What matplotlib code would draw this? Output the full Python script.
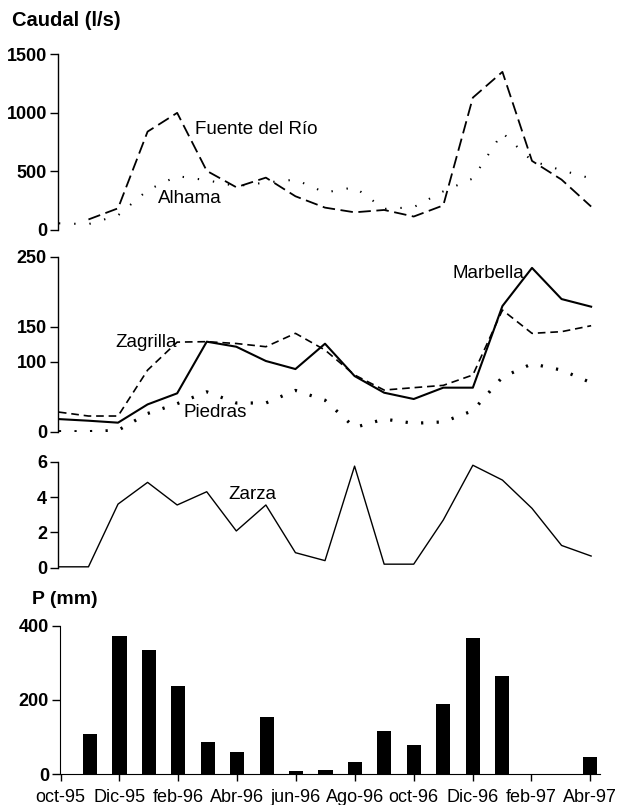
import numpy as np
import matplotlib
matplotlib.use('Agg')
import matplotlib.pyplot as plt

plt.rcParams['font.family'] = ['Liberation Sans', 'DejaVu Sans']
plt.rcParams['lines.scale_dashes'] = False

# Months from oct-95 to Abr-97 (one value per month)
MONTHS = ['oct-95', 'nov-95', 'Dic-95', 'ene-96', 'feb-96', 'mar-96', 'Abr-96',
          'may-96', 'jun-96', 'jul-96', 'Ago-96', 'sep-96', 'oct-96', 'nov-96',
          'Dic-96', 'ene-97', 'feb-97', 'mar-97', 'Abr-97']

# Spring discharge (l/s)
fuente_del_rio = [np.nan, 90, 185, 840, 1000, 505, 365, 447, 288, 191, 151,
                  171, 115, 210, 1130, 1350, 590, 430, 200]
alhama = [57, 50, 125, 340, 460, 425, 375, 405, 430, 320, 365, 180, 195, 330,
          440, 830, 590, 510, 440]
marbella = [18, 15.7, 12.9, 39, 54.8, 128.6, 121.4, 101, 89.5, 125.7, 79.5,
            55.7, 46.7, 62.9, 62.9, 179.5, 234, 189.5, 178.6]
zagrilla = [28, 22.4, 22.4, 88, 128, 128.6, 126, 121.4, 140.5, 116.7, 81,
            59.5, 62.9, 66.2, 81, 173.8, 140.5, 142.9, 151.4]
piedras = [0, 0, 2, 26, 40, 57, 41, 41, 59, 45, 6, 18, 12, 14, 30, 78, 97,
           88, 70]
zarza = [0.05, 0.05, 3.6, 4.83, 3.55, 4.3, 2.08, 3.55, 0.85, 0.4, 5.75, 0.2,
         0.2, 2.7, 5.8, 4.96, 3.36, 1.26, 0.66]

# Monthly rainfall (mm)
rain = [0, 108, 373, 335, 237, 85, 60.5, 155, 8, 11, 33, 115, 79, 190, 366,
        265, 0, 0, 47]

W, H = 622, 805
x = np.arange(len(MONTHS))
TICK_SIZE = 13


def rect(left, top, right, bottom):
    # axes rectangle from pixel edges
    return [left / W, 1 - bottom / H, (right - left) / W, (bottom - top) / H]


def style_axis(ax, ymax, yticks):
    for side in ['top', 'right', 'bottom']:
        ax.spines[side].set_visible(False)
    ax.spines['left'].set_linewidth(1.0)
    ax.set_ylim(0, ymax)
    ax.set_yticks(yticks)
    ax.tick_params(axis='y', direction='out', length=6, width=1, pad=2,
                   labelsize=TICK_SIZE)
    for lab in ax.get_yticklabels():
        lab.set_fontweight('bold')
    ax.set_xticks([])
    ax.patch.set_alpha(0)


fig = plt.figure(figsize=(W / 100, H / 100), dpi=100)

ax1 = fig.add_axes(rect(58, 54.3, 600, 230))
ax2 = fig.add_axes(rect(58, 256.7, 600, 431.7))
ax3 = fig.add_axes(rect(58, 461.7, 600, 567.7))
ax4 = fig.add_axes(rect(60, 625.7, 600, 774))

for ax in (ax1, ax2, ax3):
    ax.set_xlim(-0.03, 18.3)

# Top: Fuente del Río and Alhama
ax1.plot(x, fuente_del_rio, color='black', lw=1.3, dashes=(9, 4))
ax1.plot(x, alhama, color='black', lw=1.5, dashes=(1, 10))
style_axis(ax1, 1500, [0, 500, 1000, 1500])
ax1.text(4.6, 854, 'Fuente del Río', fontsize=13.5, va='center')
ax1.text(3.35, 265, 'Alhama', fontsize=13.5, va='center')

# Middle: Marbella, Zagrilla, Piedras
ax2.plot(x, marbella, color='black', lw=1.5)
ax2.plot(x, zagrilla, color='black', lw=1.2, dashes=(5.5, 3.5))
ax2.plot(x, piedras, color='black', lw=2.3, dashes=(1.6, 9.6),
         dash_capstyle='butt')
style_axis(ax2, 250, [0, 100, 150, 250])
ax2.text(13.3, 226.7, 'Marbella', fontsize=13.5, va='center')
ax2.text(1.9, 128, 'Zagrilla', fontsize=13.5, va='center')
ax2.text(4.2, 27.4, 'Piedras', fontsize=13.5, va='center')

# Zarza
ax3.plot(x, zarza, color='black', lw=1.0)
style_axis(ax3, 6, [0, 2, 4, 6])
ax3.text(5.72, 4.17, 'Zarza', fontsize=13.5, va='center')

# Rainfall bars
ax4.bar(x, rain, width=0.48, color='black')
ax4.set_xlim(-0.02, 18.33)
ax4.set_ylim(0, 400)
ax4.set_yticks([0, 200, 400])
ax4.spines['top'].set_visible(False)
ax4.spines['right'].set_visible(False)
ax4.set_xticks(x[::2])
ax4.set_xticklabels(MONTHS[::2])
ax4.tick_params(axis='y', direction='out', length=6, width=1, pad=2,
                labelsize=TICK_SIZE)
ax4.tick_params(axis='x', direction='out', length=5, width=1, pad=6,
                labelsize=13)
for lab in ax4.get_yticklabels():
    lab.set_fontweight('bold')

fig.text(12 / W, 1 - 21 / H, 'Caudal (l/s)', fontsize=14.5, fontweight='bold',
         va='center')
fig.text(32 / W, 1 - 600 / H, 'P (mm)', fontsize=14, fontweight='bold',
         va='center')

fig.savefig('out.png', dpi=100)
